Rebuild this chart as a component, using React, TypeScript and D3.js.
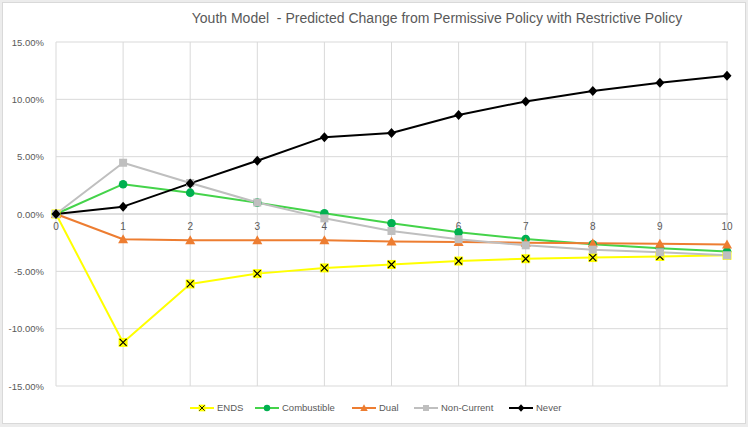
import React, { useEffect } from "react";
import * as d3 from "d3";

const years = [0, 1, 2, 3, 4, 5, 6, 7, 8, 9, 10];
const ends = [0, -11.2, -6.1, -5.2, -4.7, -4.4, -4.1, -3.9, -3.8, -3.7, -3.6];
const combustible = [0, 2.6, 1.86, 0.99, 0.06, -0.81, -1.6, -2.18, -2.64, -2.99, -3.28];
const dual = [0, -2.2, -2.3, -2.3, -2.3, -2.4, -2.45, -2.5, -2.55, -2.6, -2.65];
const nonCurrent = [0, 4.47, 2.7, 1.0, -0.38, -1.48, -2.2, -2.73, -3.11, -3.34, -3.6];
const never = [0, 0.64, 2.67, 4.65, 6.7, 7.06, 8.63, 9.82, 10.72, 11.45, 12.06];
const yTicks = [-15, -10, -5, 0, 5, 10, 15];
const title = "Youth Model  - Predicted Change from Permissive Policy with Restrictive Policy";

type Series = { name: string; values: number[]; line: string; marker: string; shape: string };
const series: Series[] = [
  { name: "ENDS", values: ends, line: "#ffff00", marker: "#ffff00", shape: "x" },
  { name: "Combustible", values: combustible, line: "#44d34a", marker: "#00b050", shape: "circle" },
  { name: "Dual", values: dual, line: "#ed7d31", marker: "#ed7d31", shape: "triangle" },
  { name: "Non-Current", values: nonCurrent, line: "#bfbfbf", marker: "#bfbfbf", shape: "square" },
  { name: "Never", values: never, line: "#000000", marker: "#000000", shape: "diamond" },
];

const W = 748;
const H = 427;
const FONT = "'Liberation Sans', Arial, sans-serif";
const TXT = "#595959";

function Marker({ shape, x, y, color }: { shape: string; x: number; y: number; color: string }) {
  if (shape === "x") {
    return (
      <g transform={`translate(${x},${y})`}>
        <rect x={-4.5} y={-4.5} width={9} height={9} fill={color} />
        <path d="M-3.5,-3.5L3.5,3.5M-3.5,3.5L3.5,-3.5" stroke="#000" strokeWidth={1.2} />
      </g>
    );
  }
  if (shape === "circle") return <circle cx={x} cy={y} r={4.3} fill={color} />;
  if (shape === "triangle") return <path d={`M${x},${y - 5}L${x + 5},${y + 4}L${x - 5},${y + 4}Z`} fill={color} />;
  if (shape === "square") return <rect x={x - 4} y={y - 4} width={8} height={8} fill={color} />;
  return <path d={`M${x},${y - 5}L${x + 4.5},${y}L${x},${y + 5}L${x - 4.5},${y}Z`} fill={color} />;
}

export default function App() {
  useEffect(() => {
    document.body.style.margin = "0";
  }, []);

  const x = d3.scaleLinear().domain([0, 10]).range([56, 727]);
  const y = d3.scaleLinear().domain([-15, 15]).range([386, 42]);
  const line = d3
    .line<number>()
    .x((_, i) => x(years[i]))
    .y((d) => y(d))
    .curve(d3.curveLinear);

  const legendItems = [
    { s: series[0], lx: 190 },
    { s: series[1], lx: 255 },
    { s: series[2], lx: 352 },
    { s: series[3], lx: 414 },
    { s: series[4], lx: 509 },
  ];

  return (
    <svg width={W} height={H} style={{ display: "block" }} fontFamily={FONT}>
      <rect x={0} y={0} width={W} height={H} fill="#ececec" />
      <rect x={2.5} y={2.5} width={743} height={421} fill="#fff" stroke="#d9d9d9" />
      <text x={437} y={23} textAnchor="middle" fontSize={14} fill={TXT} style={{ whiteSpace: "pre" }}>
        {title}
      </text>
      {yTicks.map((t) => (
        <g key={"y" + t}>
          <line x1={56} x2={728} y1={y(t)} y2={y(t)} stroke={t === 0 ? "#bfbfbf" : "#d9d9d9"} strokeWidth={1} />
          <text x={44} y={y(t) + 3.5} textAnchor="end" fontSize={9.5} fill={TXT}>
            {t.toFixed(2) + "%"}
          </text>
        </g>
      ))}
      {years.map((v) => (
        <g key={"x" + v}>
          <line x1={x(v)} x2={x(v)} y1={42} y2={386} stroke="#d9d9d9" strokeWidth={1} />
          <text x={x(v)} y={y(0) + 16} textAnchor="middle" fontSize={10} fill={TXT}>
            {v}
          </text>
        </g>
      ))}
      {series.map((s) => (
        <path key={"l" + s.name} d={line(s.values) || ""} fill="none" stroke={s.line} strokeWidth={2} strokeLinejoin="round" />
      ))}
      {series.map((s) =>
        s.values.map((v, i) => (
          <Marker key={s.name + i} shape={s.shape} x={x(years[i])} y={y(v)} color={s.marker} />
        ))
      )}
      {legendItems.map(({ s, lx }) => (
        <g key={"lg" + s.name}>
          <line x1={lx} x2={lx + 24} y1={408} y2={408} stroke={s.line} strokeWidth={2} />
          <g transform={`translate(${lx + 12},408) scale(0.75)`}>
            <Marker shape={s.shape} x={0} y={0} color={s.marker} />
          </g>
          <text x={lx + 27} y={411} fontSize={9.5} fill={TXT}>
            {s.name}
          </text>
        </g>
      ))}
    </svg>
  );
}
